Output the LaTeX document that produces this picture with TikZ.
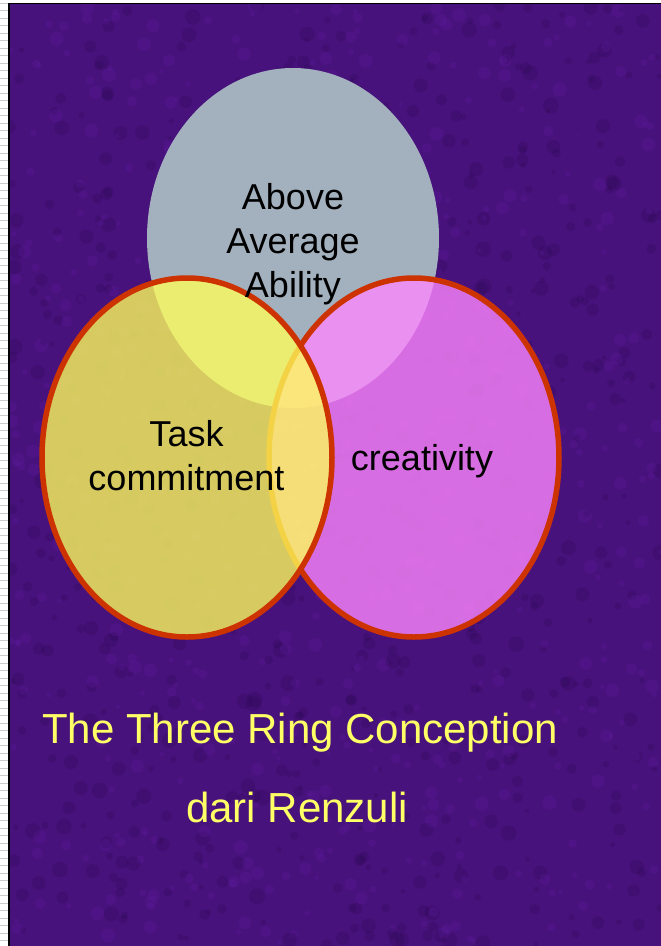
\documentclass[tikz,border=0pt]{standalone}
\usepackage{fontspec}
\setmainfont{Liberation Sans}
\usepackage{xcolor}
\usepackage{tikz}
\usetikzlibrary{shapes.geometric}

\definecolor{slidebg}{RGB}{72,18,124}
\definecolor{slidedark}{RGB}{44,8,84}
\definecolor{slidelight}{RGB}{100,30,165}
\definecolor{abilitygray}{RGB}{163,176,190}
\definecolor{taskyellow}{RGB}{255,255,90}
\definecolor{creapink}{RGB}{255,135,255}
\definecolor{ringred}{RGB}{204,51,0}
\definecolor{titleyellow}{RGB}{255,255,102}

\tikzset{
  ring/.style={ellipse, inner sep=0pt, line width=5.5pt, draw=ringred, fill opacity=0.78, draw opacity=1},
  label/.style={align=center, font=\fontsize{36}{44}\selectfont, text=black, inner sep=0pt},
  caption/.style={font=\fontsize{42}{50}\selectfont, text=titleyellow, inner sep=0pt, anchor=base}
}

\begin{document}
\begin{tikzpicture}[x=1pt,y=-1pt]
    \useasboundingbox (0,0) rectangle (661,946);
    % slide background
    \fill[white] (0,0) rectangle (661,946);
    \fill[slidebg] (9,4) rectangle (661,946);
    \pgfmathsetseed{7}
    \begin{scope}
    \clip (9,4) rectangle (661,946);
    \foreach \i in {1,...,700}
    {
        \pgfmathsetmacro{\px}{9+652*rnd}
        \pgfmathsetmacro{\py}{4+942*rnd}
        \pgfmathsetmacro{\pr}{2+6*rnd}
        \fill[slidedark, opacity=0.25] (\px,\py) circle (\pr);
    }
    \foreach \i in {1,...,600}
    {
        \pgfmathsetmacro{\px}{9+652*rnd}
        \pgfmathsetmacro{\py}{4+942*rnd}
        \pgfmathsetmacro{\pr}{2+5*rnd}
        \fill[slidelight, opacity=0.22] (\px,\py) circle (\pr);
    }
    \end{scope}
    % left margin strip
    \foreach \y in {3,10.5,...,946}
    \draw[black!20, line width=1pt] (0,\y) -- (8,\y);
    \draw[black, line width=2pt] (9,3) -- (9,946);
    \draw[black, line width=1.5pt] (9,3.5) -- (661,3.5);

    % the three rings
    \node[ellipse, inner sep=0pt, fill=abilitygray, minimum width=292pt, minimum height=340pt] (ability) at (293,238) {};
    \node[ring, fill=creapink, minimum width=290pt, minimum height=359pt] (creativity) at (414,457.5) {};
    \node[ring, fill=taskyellow, minimum width=290pt, minimum height=359pt] (task) at (187,457.5) {};

    % labels
    \node[label] (abilitytext) at (293,244.6) {Above\\Average\\Ability};
    \node[label] (tasktext) at (186.5,456) {Task\\commitment};
    \node[label, anchor=base] (creativitytext) at (422,470) {creativity};

    % caption
    \node[caption] (title) at (300,743) {The Three Ring Conception};
    \node[caption] (author) at (297,822) {dari Renzuli};
\end{tikzpicture}
\end{document}
